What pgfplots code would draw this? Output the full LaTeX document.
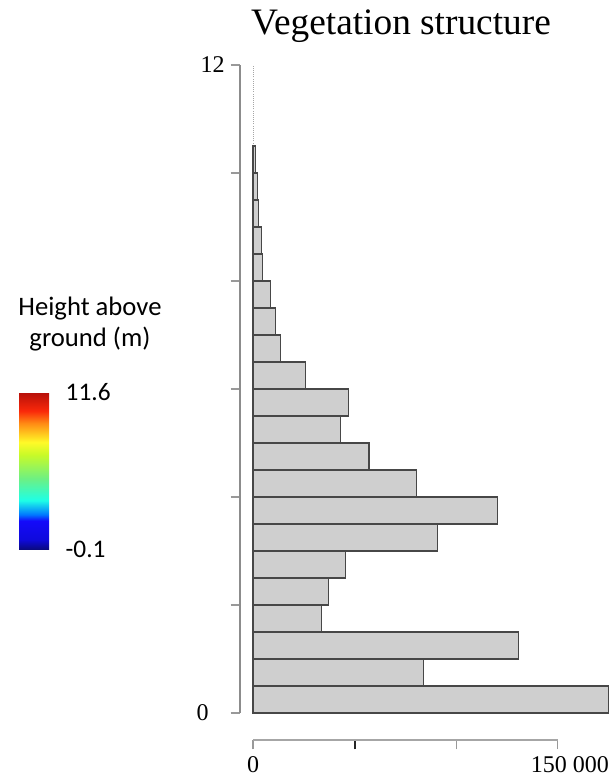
\documentclass[border=0pt]{standalone}
\usepackage{fontspec}
\setmainfont{Liberation Serif}
\newfontfamily\carlito{Carlito}
\usepackage{pgfplots}
\usepackage{pgfplotstable}
\pgfplotsset{compat=1.18}
\pgfplotstableread{
y x
0.25 175000
0.75 84000
1.25 130500
1.75 33700
2.25 37300
2.75 45700
3.25 90600
3.75 120200
4.25 80500
4.75 57100
5.25 43200
5.75 46800
6.25 26000
6.75 13700
7.25 11200
7.75 8600
8.25 4500
8.75 4300
9.25 2800
9.75 2000
10.25 1200
}\bars
\begin{document}
\begin{tikzpicture}
\useasboundingbox (0,0) rectangle (457.5pt,-588pt);
\node[anchor=base, font=\fontsize{28pt}{30pt}\selectfont] at (300.75pt,-26.25pt) {Vegetation structure};
\begin{axis}[
 at={(180pt,-555pt)}, anchor=south west, scale only axis,
 width=277.5pt, height=506.25pt,
 xmin=-6400, xmax=175700, ymin=-0.5, ymax=12,
 axis x line*=bottom, axis y line*=left,
 axis line style={draw=none},
 clip=false,
 tick align=outside,
 major tick length=7pt,
 ytick={0,2,...,12}, yticklabels={{0\rule{12pt}{0pt}},,,,,,12},
 xtick={0,100000,150000}, xticklabels={0,,{\phantom{00}150 000}},
 extra x ticks={50000}, extra x tick labels={},
 extra x tick style={xtick style={black!85, line width=1.4pt}},
 tick style={black!40, line width=1pt},
 ticklabel style={font=\fontsize{18pt}{20pt}\selectfont},
 xticklabel style={yshift=-2pt},
 yticklabel style={xshift=-1pt},
 scaled x ticks=false,
]
\addplot[black!35, densely dotted, line width=0.6pt] coordinates {(0,0) (0,12)};
\addplot[xbar, bar width=0.5, fill=black!19, draw=black!72, line width=0.8pt] table[x=x,y=y]{\bars};
\addplot[black!45, line width=1.2pt] coordinates {(-6400,0) (-6400,12)};
\addplot[black!35, line width=1.2pt] coordinates {(0,-0.5) (150000,-0.5)};
\end{axis}
\node[anchor=base, font=\carlito\fontsize{20pt}{22pt}\selectfont] at (67.5pt,-236.25pt) {Height above};
\node[anchor=base, font=\carlito\fontsize{20pt}{22pt}\selectfont] at (67.5pt,-259.5pt) {ground (m)};
\begin{axis}[
 at={(14.25pt,-411.75pt)}, anchor=south west, scale only axis,
 width=22.5pt, height=117.75pt, hide axis,
 xmin=0, xmax=1, ymin=0, ymax=1,
 colorbar shift/.style={},
 colorbar/width=22.5pt,
 colormap={veg}{rgb255(0cm)=(10,10,130); rgb255(0.6cm)=(15,10,220); rgb255(1.8cm)=(20,10,250); rgb255(2.2cm)=(0,120,255); rgb255(3.1cm)=(30,255,230); rgb255(4.5cm)=(110,240,130); rgb255(6.0cm)=(200,250,40); rgb255(6.8cm)=(255,250,40); rgb255(8.0cm)=(255,140,20); rgb255(8.8cm)=(250,40,10); rgb255(10cm)=(180,15,10)},
 point meta min=-0.1, point meta max=11.6,
 colorbar,
 colorbar style={at={(parent axis.south west)}, anchor=south west, scale only axis,
   width=22.5pt, height=117.75pt, axis line style={draw=none},
   ytick={-0.1,11.6}, yticklabels={-0.1,11.6}, major tick length=0pt,
   yticklabel style={font=\carlito\fontsize{19pt}{21pt}\selectfont, xshift=9pt}},
]
\addplot[draw=none] coordinates {(0,0)};
\end{axis}
\end{tikzpicture}
\end{document}
